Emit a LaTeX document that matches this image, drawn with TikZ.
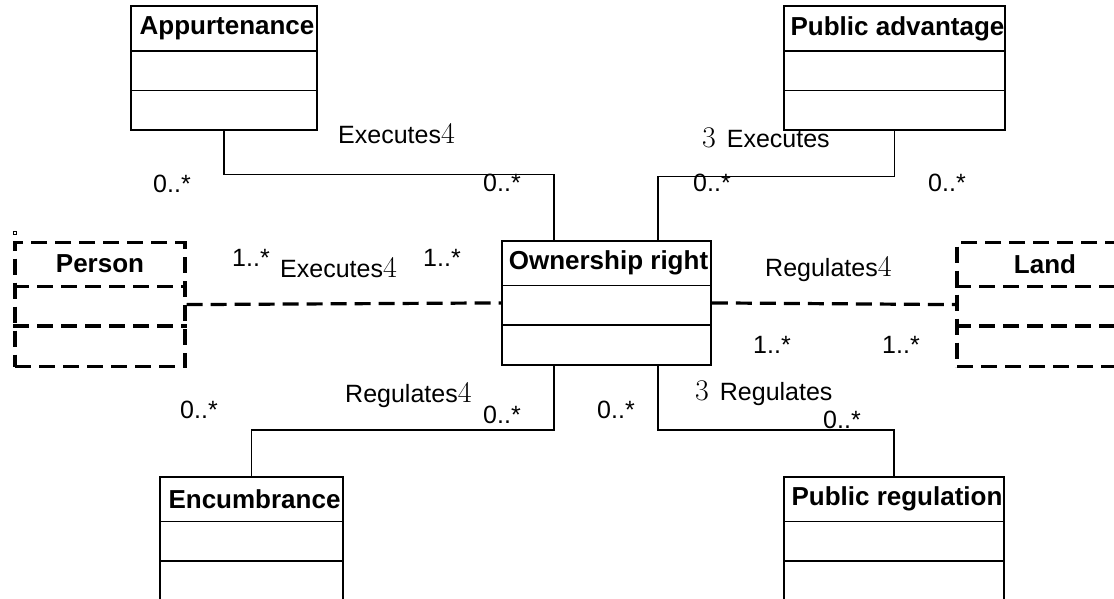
\documentclass[tikz,border=0pt]{standalone}
\usepackage{fontspec}
\newfontfamily\arial{Liberation Sans}
\usetikzlibrary{calc}
\tikzset{
  cls/.style={draw, line width=1.8pt, inner sep=0pt},
  dcls/.style={draw, line width=3.2pt, dash pattern=on 16pt off 8pt, inner sep=0pt},
  title/.style={font=\arial\bfseries\fontsize{26}{30}\selectfont, inner sep=0pt},
  lbl/.style={font=\arial\fontsize{25}{30}\selectfont, inner sep=0pt, anchor=base west},
  conn/.style={line width=1.3pt},
  dconn/.style={line width=3.2pt, dash pattern=on 16pt off 8pt},
}
\newcommand\tri[1]{{\rmfamily\fontsize{30}{32}\selectfont #1}}
\newcommand\umlcls[7]{%
  \node[#2, minimum width=#5, minimum height=124, anchor=north] (#1) at (#3,#4) {};
  \node[title] (#1-t) at ($(#1.north)+(#7,23)$) {#6};
  \draw[#2] ($(#1.north west)+(0,45.5)$) -- ($(#1.north east)+(0,45.5)$);
  \draw[#2] ($(#1.north west)+(0,85)$) -- ($(#1.north east)+(0,85)$);
}
\begin{document}
\begin{tikzpicture}[x=1pt, y=-1pt]
\useasboundingbox (0,0) rectangle (1114,599);
% classes
\umlcls{app}{cls}{224}{5.5}{186}{Appurtenance}{3}
\umlcls{pa}{cls}{894.5}{5.5}{221}{Public advantage}{3}
\umlcls{own}{cls}{606.5}{240}{209}{Ownership right}{2}
\umlcls{per}{dcls}{100}{241}{170}{Person}{0}
\umlcls{land}{dcls}{1045}{241}{176}{Land}{0}
\umlcls{enc}{cls}{251.5}{476}{183}{Encumbrance}{3}
\umlcls{pr}{cls}{894}{476}{220}{Public regulation}{3}
\draw[line width=0.8pt] (13.5,231.5) rectangle (16.5,234.5);
% connectors
\draw[conn] (app.south) -- ++(0,43.5) -| ([xshift=-52.5]own.north);
\draw[conn] (pa.south) -- ++(0,45) -| ([xshift=51.5]own.north);
\draw[conn] (enc.north) -- ++(0,-46) -| ([xshift=-52.5]own.south);
\draw[conn] (pr.north) -- ++(0,-46) -| ([xshift=51.5]own.south);
\draw[dconn] (per.east) -- (own.west);
\draw[dconn] (own.east) -- (land.west);
% labels
\node[lbl] (l1) at (338,144) {Executes\tri{4}};
\node[lbl] (l2) at (702,148) {\tri{3}\hspace{4pt} Executes};
\node[lbl] (m1) at (153,193) {0..*};
\node[lbl] (m2) at (483,192) {0..*};
\node[lbl] (m3) at (693,192) {0..*};
\node[lbl] (m4) at (928,192) {0..*};
\node[lbl] (m5) at (232,266) {1..*};
\node[lbl] (m6) at (423,266) {1..*};
\node[lbl] (l3) at (280,277) {Executes\tri{4}};
\node[lbl] (l4) at (765,276) {Regulates\tri{4}};
\node[lbl] (m7) at (753,353) {1..*};
\node[lbl] (m8) at (882,353) {1..*};
\node[lbl] (l5) at (345,402) {Regulates\tri{4}};
\node[lbl] (l6) at (695,400) {\tri{3}\hspace{4pt} Regulates};
\node[lbl] (m9) at (180,418) {0..*};
\node[lbl] (m10) at (483,423) {0..*};
\node[lbl] (m11) at (597,418) {0..*};
\node[lbl] (m12) at (823,428) {0..*};
\end{tikzpicture}
\end{document}
